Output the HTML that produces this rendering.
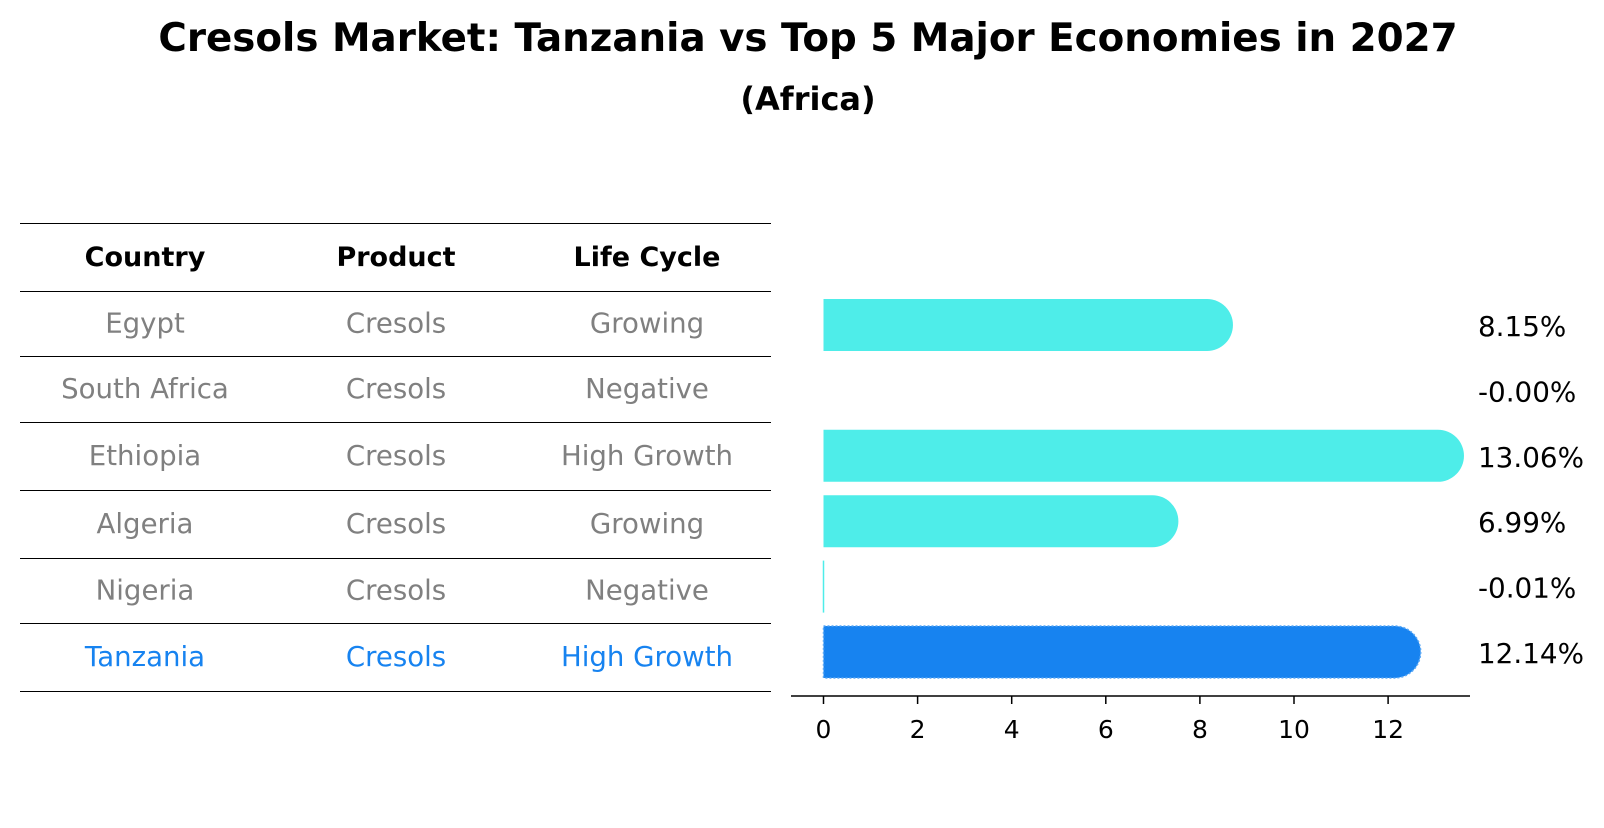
<!DOCTYPE html>
<html><head><meta charset="utf-8"><style>
body{margin:0;background:#fff;font-family:"Liberation Sans","DejaVu Sans",sans-serif;}
svg text{font-family:"DejaVu Sans","Liberation Sans",sans-serif;}
</style></head><body>
<svg id="c" width="1604" height="823" xmlns="http://www.w3.org/2000/svg">
<text x="808" y="51" text-anchor="middle" font-size="38.8" font-weight="bold">Cresols Market: Tanzania vs Top 5 Major Economies in 2027</text>
<text x="808" y="110" text-anchor="middle" font-size="32" font-weight="bold">(Africa)</text>
<g id="tbl"></g>
<g id="bars"></g>
</svg>
<script>
const countries=["Egypt","South Africa","Ethiopia","Algeria","Nigeria","Tanzania"];
const products=["Cresols","Cresols","Cresols","Cresols","Cresols","Cresols"];
const lifecycle=["Growing","Negative","High Growth","Growing","Negative","High Growth"];
const values=[8.15,-0.00,13.06,6.99,-0.01,12.14];
const valueLabels=["8.15%","-0.00%","13.06%","6.99%","-0.01%","12.14%"];
const ticks=[0,2,4,6,8,10,12];
const NS="http://www.w3.org/2000/svg";
function mk(t,a,p){const e=document.createElementNS(NS,t);for(const k in a)e.setAttribute(k,a[k]);p.appendChild(e);return e;}
const tbl=document.getElementById('tbl'),bars=document.getElementById('bars');
const lineYs=[223,291,356,422,490,558,623,691];
const colX=[145,396,647];
lineYs.forEach((y,i)=>{const l=mk('line',{x1:20,x2:771,y1:y+0.5,y2:y+0.5,stroke:'#000','stroke-width':1},tbl);

});
["Country","Product","Life Cycle"].forEach((h,j)=>{const t=mk('text',{x:colX[j],y:266,'text-anchor':'middle','font-size':27,'font-weight':'bold'},tbl);t.textContent=h;

});
const rowY=i=>(lineYs[i+1]+lineYs[i+2])/2;
countries.forEach((c,i)=>{const col=i===countries.length-1?'#1783F0':'#808080';
[c,products[i],lifecycle[i]].forEach((v,j)=>{const t=mk('text',{x:colX[j],y:rowY(i)+9,'text-anchor':'middle','font-size':27.6,fill:col},tbl);t.textContent=v;

});});
const x0=823.5,ppu=47.05;
const xs=v=>x0+v*ppu;
const barY=i=>325+i*65.4;
const bh=52,r=26;
values.forEach((v,i)=>{const last=i===values.length-1;const col=last?'#1783F0':'#4EEDE9';
const w=Math.max(0,xs(v)-x0);
if(w>0.5){const g=mk('g',{},bars);


const y0=barY(i)-bh/2,xe=x0+w;
const d=`M${x0},${y0} H${xe} A${r},${r} 0 0 1 ${xe},${y0+bh} H${x0} Z`;
mk('path',{d:d,fill:col,stroke:last?'#5aa8f5':'none','stroke-width':1.5,'stroke-dasharray':last?'2,2':'none'},g);
}else if(v!==0){const l=mk('line',{x1:x0,x2:x0,y1:barY(i)-bh/2,y2:barY(i)+bh/2,stroke:col,'stroke-width':1.5},bars);

}
const t=mk('text',{x:1478,y:barY(i)+11,'font-size':27.8},bars);t.textContent=valueLabels[i];

});
const ax=mk('line',{x1:791,x2:1470,y1:696,y2:696,stroke:'#000','stroke-width':1.5},bars);


ticks.forEach(t=>{const l=mk('line',{x1:xs(t),x2:xs(t),y1:696,y2:704,stroke:'#000','stroke-width':1.5},bars);


const tx=mk('text',{x:xs(t),y:738,'text-anchor':'middle','font-size':25},bars);tx.textContent=t;

});
</script>
</body></html>
